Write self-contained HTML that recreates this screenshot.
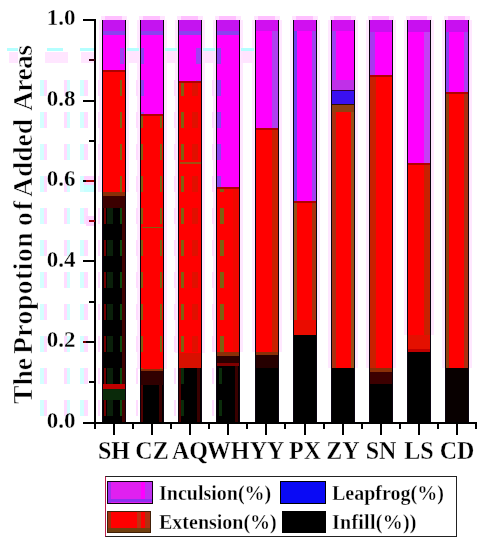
<!DOCTYPE html>
<html><head><meta charset="utf-8"><style>
html,body{margin:0;padding:0;background:#fff;}
body{width:494px;height:550px;overflow:hidden;position:relative;font-family:"Liberation Serif",serif;font-weight:bold;color:#000;}
.yl,.xl,.lt{-webkit-text-stroke:0.3px #fff;will-change:transform;}
.tw{-webkit-text-stroke:0.6px #fff;will-change:transform;}
div{position:absolute;}
.yl{left:30px;width:45.5px;text-align:right;font-size:23px;line-height:26px;transform:scaleY(1.04);transform-origin:50% 13px;}
.xl{top:437.3px;width:60px;text-align:center;font-size:24px;line-height:26px;transform:scaleY(1.075);transform-origin:50% 13px;}
.tw{transform-origin:0 0;transform:rotate(-90deg);white-space:nowrap;font-size:27.6px;line-height:30px;}
.leg{left:104.5px;top:476px;width:350px;height:59px;border:1px solid #222;border-left-color:#c02050;}
.lt{font-size:20px;line-height:22px;white-space:nowrap;}
</style></head><body>
<div style="left:101.00px;top:16.00px;width:26.00px;height:4.00px;background:#ffe4ff;"></div><div style="left:105.00px;top:16.00px;width:17.00px;height:4.00px;background:#ffc0ff;"></div><div style="left:139.00px;top:16.00px;width:26.00px;height:4.00px;background:#ffe4ff;"></div><div style="left:143.00px;top:16.00px;width:17.00px;height:4.00px;background:#ffc0ff;"></div><div style="left:177.00px;top:16.00px;width:26.00px;height:4.00px;background:#ffe4ff;"></div><div style="left:181.00px;top:16.00px;width:17.00px;height:4.00px;background:#ffc0ff;"></div><div style="left:215.00px;top:16.00px;width:26.00px;height:4.00px;background:#ffe4ff;"></div><div style="left:219.00px;top:16.00px;width:17.00px;height:4.00px;background:#ffc0ff;"></div><div style="left:254.00px;top:16.00px;width:26.00px;height:4.00px;background:#ffe4ff;"></div><div style="left:258.00px;top:16.00px;width:17.00px;height:4.00px;background:#ffc0ff;"></div><div style="left:292.00px;top:16.00px;width:26.00px;height:4.00px;background:#ffe4ff;"></div><div style="left:296.00px;top:16.00px;width:17.00px;height:4.00px;background:#ffc0ff;"></div><div style="left:330.00px;top:16.00px;width:26.00px;height:4.00px;background:#ffe4ff;"></div><div style="left:334.00px;top:16.00px;width:17.00px;height:4.00px;background:#ffc0ff;"></div><div style="left:368.00px;top:16.00px;width:26.00px;height:4.00px;background:#ffe4ff;"></div><div style="left:372.00px;top:16.00px;width:17.00px;height:4.00px;background:#ffc0ff;"></div><div style="left:406.00px;top:16.00px;width:26.00px;height:4.00px;background:#ffe4ff;"></div><div style="left:410.00px;top:16.00px;width:17.00px;height:4.00px;background:#ffc0ff;"></div><div style="left:444.00px;top:16.00px;width:26.00px;height:4.00px;background:#ffe4ff;"></div><div style="left:448.00px;top:16.00px;width:17.00px;height:4.00px;background:#ffc0ff;"></div><div style="left:102.00px;top:20.00px;width:24.00px;height:11.00px;background:#c414f0;"></div><div style="left:102.00px;top:31.00px;width:24.00px;height:4.00px;background:#8c40f0;"></div><div style="left:102.00px;top:35.00px;width:24.00px;height:34.50px;background:#ff00ff;"></div><div style="left:102.00px;top:69.50px;width:24.00px;height:2.00px;background:#b00000;"></div><div style="left:102.00px;top:71.50px;width:24.00px;height:120.50px;background:#ff0000;"></div><div style="left:102.00px;top:192.00px;width:24.00px;height:4.00px;background:#8a3008;"></div><div style="left:102.00px;top:196.00px;width:24.00px;height:12.00px;background:#3c0000;"></div><div style="left:102.00px;top:208.00px;width:24.00px;height:176.00px;background:#000000;"></div><div style="left:102.00px;top:384.00px;width:24.00px;height:5.00px;background:#c00000;"></div><div style="left:102.00px;top:389.00px;width:24.00px;height:11.00px;background:#0a2a0a;"></div><div style="left:102.00px;top:400.00px;width:24.00px;height:22.00px;background:#000000;"></div><div style="left:102.00px;top:20.00px;width:1.00px;height:402.00px;background:#0a0410;"></div><div style="left:125.00px;top:20.00px;width:1.00px;height:402.00px;background:#0a0410;"></div><div style="left:140.00px;top:20.00px;width:24.00px;height:11.00px;background:#c414f0;"></div><div style="left:140.00px;top:31.00px;width:24.00px;height:4.00px;background:#8c40f0;"></div><div style="left:140.00px;top:35.00px;width:24.00px;height:78.50px;background:#ff00ff;"></div><div style="left:140.00px;top:113.50px;width:24.00px;height:2.00px;background:#b00000;"></div><div style="left:140.00px;top:115.50px;width:24.00px;height:253.50px;background:#ff0000;"></div><div style="left:140.00px;top:369.00px;width:24.00px;height:2.00px;background:#8a3008;"></div><div style="left:140.00px;top:371.00px;width:24.00px;height:14.00px;background:#300000;"></div><div style="left:140.00px;top:385.00px;width:24.00px;height:37.00px;background:#000000;"></div><div style="left:140.00px;top:20.00px;width:1.00px;height:402.00px;background:#0a0410;"></div><div style="left:163.00px;top:20.00px;width:1.00px;height:402.00px;background:#0a0410;"></div><div style="left:178.00px;top:20.00px;width:24.00px;height:11.00px;background:#c414f0;"></div><div style="left:178.00px;top:31.00px;width:24.00px;height:4.00px;background:#8c40f0;"></div><div style="left:178.00px;top:35.00px;width:24.00px;height:46.00px;background:#ff00ff;"></div><div style="left:178.00px;top:81.00px;width:24.00px;height:2.00px;background:#b00000;"></div><div style="left:178.00px;top:83.00px;width:24.00px;height:270.00px;background:#ff0000;"></div><div style="left:178.00px;top:353.00px;width:24.00px;height:14.60px;background:#d81000;"></div><div style="left:178.00px;top:367.60px;width:24.00px;height:54.40px;background:#000000;"></div><div style="left:178.00px;top:20.00px;width:1.00px;height:402.00px;background:#0a0410;"></div><div style="left:201.00px;top:20.00px;width:1.00px;height:402.00px;background:#0a0410;"></div><div style="left:216.00px;top:20.00px;width:24.00px;height:11.00px;background:#c414f0;"></div><div style="left:216.00px;top:31.00px;width:24.00px;height:4.00px;background:#8c40f0;"></div><div style="left:216.00px;top:35.00px;width:24.00px;height:151.50px;background:#ff00ff;"></div><div style="left:216.00px;top:186.50px;width:24.00px;height:2.00px;background:#b00000;"></div><div style="left:216.00px;top:188.50px;width:24.00px;height:163.80px;background:#ff0000;"></div><div style="left:216.00px;top:352.30px;width:24.00px;height:3.70px;background:#8a3008;"></div><div style="left:216.00px;top:356.00px;width:24.00px;height:7.00px;background:#2a0000;"></div><div style="left:216.00px;top:363.00px;width:24.00px;height:3.00px;background:#800000;"></div><div style="left:216.00px;top:366.00px;width:24.00px;height:56.00px;background:#000000;"></div><div style="left:216.00px;top:20.00px;width:1.00px;height:402.00px;background:#0a0410;"></div><div style="left:239.00px;top:20.00px;width:1.00px;height:402.00px;background:#0a0410;"></div><div style="left:255.00px;top:20.00px;width:24.00px;height:11.00px;background:#d010f0;"></div><div style="left:255.00px;top:31.00px;width:24.00px;height:96.50px;background:#ff00ff;"></div><div style="left:255.00px;top:127.50px;width:24.00px;height:2.00px;background:#b00000;"></div><div style="left:255.00px;top:129.50px;width:24.00px;height:222.70px;background:#ff0000;"></div><div style="left:255.00px;top:352.20px;width:24.00px;height:2.80px;background:#8a3008;"></div><div style="left:255.00px;top:355.00px;width:24.00px;height:13.00px;background:#260000;"></div><div style="left:255.00px;top:368.00px;width:24.00px;height:54.00px;background:#000000;"></div><div style="left:255.00px;top:20.00px;width:1.00px;height:402.00px;background:#0a0410;"></div><div style="left:278.00px;top:20.00px;width:1.00px;height:402.00px;background:#0a0410;"></div><div style="left:293.00px;top:20.00px;width:24.00px;height:11.00px;background:#d010f0;"></div><div style="left:293.00px;top:31.00px;width:24.00px;height:170.00px;background:#ff00ff;"></div><div style="left:293.00px;top:201.00px;width:24.00px;height:2.00px;background:#b00000;"></div><div style="left:293.00px;top:203.00px;width:24.00px;height:117.00px;background:#ff0000;"></div><div style="left:293.00px;top:320.00px;width:24.00px;height:15.20px;background:#ea0c00;"></div><div style="left:293.00px;top:335.20px;width:24.00px;height:86.80px;background:#000000;"></div><div style="left:293.00px;top:20.00px;width:1.00px;height:402.00px;background:#0a0410;"></div><div style="left:316.00px;top:20.00px;width:1.00px;height:402.00px;background:#0a0410;"></div><div style="left:331.00px;top:20.00px;width:24.00px;height:11.00px;background:#d010f0;"></div><div style="left:331.00px;top:31.00px;width:24.00px;height:48.50px;background:#ff00ff;"></div><div style="left:331.00px;top:79.50px;width:24.00px;height:10.50px;background:#c030e8;"></div><div style="left:331.00px;top:90.00px;width:24.00px;height:1.00px;background:#300040;"></div><div style="left:331.00px;top:91.00px;width:24.00px;height:13.00px;background:#3a10f0;"></div><div style="left:331.00px;top:104.00px;width:24.00px;height:1.00px;background:#301000;"></div><div style="left:331.00px;top:105.00px;width:24.00px;height:7.00px;background:#904010;"></div><div style="left:331.00px;top:112.00px;width:24.00px;height:255.50px;background:#ff0000;"></div><div style="left:331.00px;top:367.50px;width:24.00px;height:54.50px;background:#000000;"></div><div style="left:331.00px;top:20.00px;width:1.00px;height:402.00px;background:#0a0410;"></div><div style="left:354.00px;top:20.00px;width:1.00px;height:402.00px;background:#0a0410;"></div><div style="left:369.00px;top:20.00px;width:24.00px;height:11.50px;background:#c810f0;"></div><div style="left:369.00px;top:31.50px;width:24.00px;height:43.50px;background:#ff00ff;"></div><div style="left:369.00px;top:75.00px;width:24.00px;height:2.00px;background:#b00000;"></div><div style="left:369.00px;top:77.00px;width:24.00px;height:291.30px;background:#ff0000;"></div><div style="left:369.00px;top:368.30px;width:24.00px;height:3.70px;background:#8a3008;"></div><div style="left:369.00px;top:372.00px;width:24.00px;height:12.00px;background:#3c0000;"></div><div style="left:369.00px;top:384.00px;width:24.00px;height:38.00px;background:#000000;"></div><div style="left:369.00px;top:20.00px;width:1.00px;height:402.00px;background:#0a0410;"></div><div style="left:392.00px;top:20.00px;width:1.00px;height:402.00px;background:#0a0410;"></div><div style="left:407.00px;top:20.00px;width:24.00px;height:11.50px;background:#c810f0;"></div><div style="left:407.00px;top:31.50px;width:24.00px;height:131.50px;background:#ff00ff;"></div><div style="left:407.00px;top:163.00px;width:24.00px;height:2.00px;background:#b00000;"></div><div style="left:407.00px;top:165.00px;width:24.00px;height:170.00px;background:#ff0000;"></div><div style="left:407.00px;top:335.00px;width:24.00px;height:14.00px;background:#e41000;"></div><div style="left:407.00px;top:349.00px;width:24.00px;height:2.80px;background:#c00000;"></div><div style="left:407.00px;top:351.80px;width:24.00px;height:70.20px;background:#000000;"></div><div style="left:407.00px;top:20.00px;width:1.00px;height:402.00px;background:#0a0410;"></div><div style="left:430.00px;top:20.00px;width:1.00px;height:402.00px;background:#0a0410;"></div><div style="left:445.00px;top:20.00px;width:24.00px;height:11.50px;background:#c810f0;"></div><div style="left:445.00px;top:31.50px;width:24.00px;height:60.50px;background:#ff00ff;"></div><div style="left:445.00px;top:92.00px;width:24.00px;height:2.00px;background:#b00000;"></div><div style="left:445.00px;top:94.00px;width:24.00px;height:274.30px;background:#ff0000;"></div><div style="left:445.00px;top:368.30px;width:24.00px;height:53.70px;background:#080000;"></div><div style="left:445.00px;top:20.00px;width:1.00px;height:402.00px;background:#0a0410;"></div><div style="left:468.00px;top:20.00px;width:1.00px;height:402.00px;background:#0a0410;"></div><div style="left:120.00px;top:48.00px;width:4.00px;height:16.00px;background:#a040f0;"></div><div style="left:120.00px;top:80.00px;width:2.00px;height:16.00px;background:#806010;"></div><div style="left:120.00px;top:112.00px;width:2.00px;height:16.00px;background:#806010;"></div><div style="left:120.00px;top:144.00px;width:2.00px;height:16.00px;background:#806010;"></div><div style="left:120.00px;top:176.00px;width:2.00px;height:16.00px;background:#806010;"></div><div style="left:104.00px;top:208.00px;width:2.00px;height:16.00px;background:#700000;"></div><div style="left:104.00px;top:240.00px;width:2.00px;height:16.00px;background:#700000;"></div><div style="left:104.00px;top:272.00px;width:2.00px;height:16.00px;background:#700000;"></div><div style="left:104.00px;top:304.00px;width:2.00px;height:16.00px;background:#700000;"></div><div style="left:104.00px;top:336.00px;width:2.00px;height:16.00px;background:#700000;"></div><div style="left:104.00px;top:368.00px;width:2.00px;height:16.00px;background:#700000;"></div><div style="left:104.00px;top:400.00px;width:2.00px;height:16.00px;background:#700000;"></div><div style="left:107.00px;top:208.00px;width:6.00px;height:16.00px;background:#0a200a;"></div><div style="left:107.00px;top:240.00px;width:6.00px;height:16.00px;background:#0a200a;"></div><div style="left:107.00px;top:272.00px;width:6.00px;height:16.00px;background:#0a200a;"></div><div style="left:107.00px;top:304.00px;width:6.00px;height:16.00px;background:#0a200a;"></div><div style="left:107.00px;top:336.00px;width:6.00px;height:16.00px;background:#0a200a;"></div><div style="left:107.00px;top:368.00px;width:6.00px;height:16.00px;background:#0a200a;"></div><div style="left:107.00px;top:400.00px;width:6.00px;height:16.00px;background:#0a200a;"></div><div style="left:120.00px;top:208.00px;width:2.00px;height:16.00px;background:#0c4a0c;"></div><div style="left:120.00px;top:240.00px;width:2.00px;height:16.00px;background:#0c4a0c;"></div><div style="left:120.00px;top:272.00px;width:2.00px;height:16.00px;background:#0c4a0c;"></div><div style="left:120.00px;top:304.00px;width:2.00px;height:16.00px;background:#0c4a0c;"></div><div style="left:120.00px;top:336.00px;width:2.00px;height:16.00px;background:#0c4a0c;"></div><div style="left:120.00px;top:368.00px;width:2.00px;height:16.00px;background:#0c4a0c;"></div><div style="left:120.00px;top:400.00px;width:2.00px;height:16.00px;background:#0c4a0c;"></div><div style="left:122.00px;top:208.00px;width:3.00px;height:176.00px;background:#400000;"></div><div style="left:122.00px;top:400.00px;width:3.00px;height:22.00px;background:#400000;"></div><div style="left:141.00px;top:48.00px;width:3.00px;height:16.00px;background:#9040f0;"></div><div style="left:141.00px;top:80.00px;width:3.00px;height:16.00px;background:#9040f0;"></div><div style="left:141.00px;top:112.00px;width:3.00px;height:1.50px;background:#9040f0;"></div><div style="left:141.00px;top:115.50px;width:2.00px;height:12.50px;background:#806010;"></div><div style="left:141.00px;top:144.00px;width:2.00px;height:16.00px;background:#806010;"></div><div style="left:141.00px;top:176.00px;width:2.00px;height:16.00px;background:#806010;"></div><div style="left:141.00px;top:208.00px;width:2.00px;height:16.00px;background:#806010;"></div><div style="left:141.00px;top:240.00px;width:2.00px;height:16.00px;background:#806010;"></div><div style="left:141.00px;top:272.00px;width:2.00px;height:16.00px;background:#806010;"></div><div style="left:141.00px;top:304.00px;width:2.00px;height:16.00px;background:#806010;"></div><div style="left:141.00px;top:336.00px;width:2.00px;height:16.00px;background:#806010;"></div><div style="left:141.00px;top:368.00px;width:2.00px;height:1.00px;background:#806010;"></div><div style="left:160.00px;top:115.50px;width:2.00px;height:12.50px;background:#806010;"></div><div style="left:160.00px;top:144.00px;width:2.00px;height:16.00px;background:#806010;"></div><div style="left:160.00px;top:176.00px;width:2.00px;height:16.00px;background:#806010;"></div><div style="left:160.00px;top:208.00px;width:2.00px;height:16.00px;background:#806010;"></div><div style="left:160.00px;top:240.00px;width:2.00px;height:16.00px;background:#806010;"></div><div style="left:160.00px;top:272.00px;width:2.00px;height:16.00px;background:#806010;"></div><div style="left:160.00px;top:304.00px;width:2.00px;height:16.00px;background:#806010;"></div><div style="left:160.00px;top:336.00px;width:2.00px;height:16.00px;background:#806010;"></div><div style="left:160.00px;top:368.00px;width:2.00px;height:1.00px;background:#806010;"></div><div style="left:141.00px;top:385.00px;width:2.00px;height:37.00px;background:#500000;"></div><div style="left:159.00px;top:385.00px;width:3.00px;height:37.00px;background:#3a0000;"></div><div style="left:196.00px;top:48.00px;width:5.00px;height:16.00px;background:#a040f0;"></div><div style="left:196.00px;top:80.00px;width:5.00px;height:1.00px;background:#a040f0;"></div><div style="left:181.00px;top:83.00px;width:3.00px;height:13.00px;background:#806010;"></div><div style="left:181.00px;top:112.00px;width:3.00px;height:16.00px;background:#806010;"></div><div style="left:181.00px;top:144.00px;width:3.00px;height:16.00px;background:#806010;"></div><div style="left:181.00px;top:176.00px;width:3.00px;height:16.00px;background:#806010;"></div><div style="left:181.00px;top:208.00px;width:3.00px;height:16.00px;background:#806010;"></div><div style="left:181.00px;top:240.00px;width:3.00px;height:16.00px;background:#806010;"></div><div style="left:181.00px;top:272.00px;width:3.00px;height:16.00px;background:#806010;"></div><div style="left:181.00px;top:304.00px;width:3.00px;height:16.00px;background:#806010;"></div><div style="left:181.00px;top:336.00px;width:3.00px;height:16.00px;background:#806010;"></div><div style="left:192.00px;top:83.00px;width:6.00px;height:13.00px;background:#e01000;"></div><div style="left:192.00px;top:112.00px;width:6.00px;height:16.00px;background:#e01000;"></div><div style="left:192.00px;top:144.00px;width:6.00px;height:16.00px;background:#e01000;"></div><div style="left:192.00px;top:176.00px;width:6.00px;height:16.00px;background:#e01000;"></div><div style="left:192.00px;top:208.00px;width:6.00px;height:16.00px;background:#e01000;"></div><div style="left:192.00px;top:240.00px;width:6.00px;height:16.00px;background:#e01000;"></div><div style="left:192.00px;top:272.00px;width:6.00px;height:16.00px;background:#e01000;"></div><div style="left:192.00px;top:304.00px;width:6.00px;height:16.00px;background:#e01000;"></div><div style="left:192.00px;top:336.00px;width:6.00px;height:16.00px;background:#e01000;"></div><div style="left:179.00px;top:367.60px;width:2.00px;height:54.40px;background:#500000;"></div><div style="left:181.00px;top:368.00px;width:3.00px;height:16.00px;background:#0a2c0a;"></div><div style="left:181.00px;top:400.00px;width:3.00px;height:16.00px;background:#0a2c0a;"></div><div style="left:197.00px;top:367.60px;width:3.00px;height:54.40px;background:#3a0000;"></div><div style="left:217.00px;top:48.00px;width:4.00px;height:16.00px;background:#9040f0;"></div><div style="left:217.00px;top:80.00px;width:4.00px;height:16.00px;background:#9040f0;"></div><div style="left:217.00px;top:112.00px;width:4.00px;height:16.00px;background:#9040f0;"></div><div style="left:217.00px;top:144.00px;width:4.00px;height:16.00px;background:#9040f0;"></div><div style="left:217.00px;top:176.00px;width:4.00px;height:10.50px;background:#9040f0;"></div><div style="left:220.00px;top:188.50px;width:4.00px;height:3.50px;background:#806010;"></div><div style="left:220.00px;top:208.00px;width:4.00px;height:16.00px;background:#806010;"></div><div style="left:220.00px;top:240.00px;width:4.00px;height:16.00px;background:#806010;"></div><div style="left:220.00px;top:272.00px;width:4.00px;height:16.00px;background:#806010;"></div><div style="left:220.00px;top:304.00px;width:4.00px;height:16.00px;background:#806010;"></div><div style="left:220.00px;top:336.00px;width:4.00px;height:16.00px;background:#806010;"></div><div style="left:233.00px;top:188.50px;width:6.00px;height:163.80px;background:#f00800;"></div><div style="left:219.00px;top:368.00px;width:3.00px;height:16.00px;background:#0a2c0a;"></div><div style="left:219.00px;top:400.00px;width:3.00px;height:16.00px;background:#0a2c0a;"></div><div style="left:235.00px;top:366.00px;width:3.00px;height:56.00px;background:#3a0000;"></div><div style="left:272.00px;top:31.00px;width:6.00px;height:96.50px;background:#b040f0;"></div><div style="left:272.00px;top:129.50px;width:6.00px;height:222.70px;background:#c82000;"></div><div style="left:294.00px;top:31.00px;width:3.00px;height:170.00px;background:#7040f0;"></div><div style="left:312.00px;top:31.00px;width:4.00px;height:170.00px;background:#a040f0;"></div><div style="left:294.00px;top:203.00px;width:3.00px;height:117.00px;background:#985018;"></div><div style="left:312.00px;top:203.00px;width:4.00px;height:117.00px;background:#a83010;"></div><div style="left:332.00px;top:31.00px;width:4.00px;height:48.50px;background:#a040f0;"></div><div style="left:332.00px;top:112.00px;width:4.00px;height:255.50px;background:#a83010;"></div><div style="left:351.00px;top:112.00px;width:3.00px;height:255.50px;background:#985018;"></div><div style="left:370.00px;top:31.50px;width:5.00px;height:43.50px;background:#a838f0;"></div><div style="left:370.00px;top:77.00px;width:6.00px;height:291.30px;background:#c82000;"></div><div style="left:424.00px;top:31.50px;width:6.00px;height:131.50px;background:#c440f4;"></div><div style="left:424.00px;top:165.00px;width:6.00px;height:170.00px;background:#c82000;"></div><div style="left:446.00px;top:31.50px;width:3.00px;height:60.50px;background:#8840f0;"></div><div style="left:464.00px;top:31.50px;width:4.00px;height:60.50px;background:#a840f0;"></div><div style="left:446.00px;top:94.00px;width:3.00px;height:274.30px;background:#904010;"></div><div style="left:464.00px;top:94.00px;width:4.00px;height:274.30px;background:#a83010;"></div><div style="left:99.00px;top:20.00px;width:3.00px;height:172.00px;background:#ffe8ff;"></div><div style="left:126.00px;top:20.00px;width:3.00px;height:172.00px;background:#ffe8ff;"></div><div style="left:137.00px;top:20.00px;width:3.00px;height:349.00px;background:#ffe8ff;"></div><div style="left:164.00px;top:20.00px;width:3.00px;height:349.00px;background:#ffe8ff;"></div><div style="left:175.00px;top:20.00px;width:3.00px;height:333.00px;background:#ffe8ff;"></div><div style="left:202.00px;top:20.00px;width:3.00px;height:333.00px;background:#ffe8ff;"></div><div style="left:213.00px;top:20.00px;width:3.00px;height:332.30px;background:#ffe8ff;"></div><div style="left:240.00px;top:20.00px;width:3.00px;height:332.30px;background:#ffe8ff;"></div><div style="left:252.00px;top:20.00px;width:3.00px;height:332.20px;background:#ffe8ff;"></div><div style="left:279.00px;top:20.00px;width:3.00px;height:332.20px;background:#ffe8ff;"></div><div style="left:290.00px;top:20.00px;width:3.00px;height:300.00px;background:#ffe8ff;"></div><div style="left:317.00px;top:20.00px;width:3.00px;height:300.00px;background:#ffe8ff;"></div><div style="left:328.00px;top:20.00px;width:3.00px;height:347.50px;background:#ffe8ff;"></div><div style="left:355.00px;top:20.00px;width:3.00px;height:347.50px;background:#ffe8ff;"></div><div style="left:366.00px;top:20.00px;width:3.00px;height:348.30px;background:#ffe8ff;"></div><div style="left:393.00px;top:20.00px;width:3.00px;height:348.30px;background:#ffe8ff;"></div><div style="left:404.00px;top:20.00px;width:3.00px;height:315.00px;background:#ffe8ff;"></div><div style="left:431.00px;top:20.00px;width:3.00px;height:315.00px;background:#ffe8ff;"></div><div style="left:442.00px;top:20.00px;width:3.00px;height:348.30px;background:#ffe8ff;"></div><div style="left:469.00px;top:20.00px;width:3.00px;height:348.30px;background:#ffe8ff;"></div><div style="left:7.00px;top:48.00px;width:11.00px;height:3.00px;background:#b4ffff;"></div><div style="left:47.00px;top:48.00px;width:16.00px;height:3.00px;background:#b4ffff;"></div><div style="left:80.00px;top:48.00px;width:14.00px;height:3.00px;background:#b4ffff;"></div><div style="left:9.00px;top:52.00px;width:9.00px;height:11.00px;background:#ffe6ff;"></div><div style="left:45.00px;top:52.00px;width:23.00px;height:11.00px;background:#ffe6ff;"></div><div style="left:81.00px;top:52.00px;width:13.00px;height:11.00px;background:#ffe6ff;"></div><div style="left:40.00px;top:80.00px;width:4.00px;height:16.00px;background:#d4ffff;"></div><div style="left:44.00px;top:80.00px;width:3.00px;height:16.00px;background:#ffdcff;"></div><div style="left:64.00px;top:80.00px;width:3.00px;height:16.00px;background:#ffdcff;"></div><div style="left:67.00px;top:80.00px;width:3.00px;height:16.00px;background:#d4ffff;"></div><div style="left:80.00px;top:80.00px;width:4.00px;height:16.00px;background:#d4ffff;"></div><div style="left:84.00px;top:80.00px;width:4.00px;height:16.00px;background:#ffdcff;"></div><div style="left:98.00px;top:80.00px;width:2.00px;height:16.00px;background:#ffdcff;"></div><div style="left:136.00px;top:80.00px;width:2.00px;height:16.00px;background:#ffdcff;"></div><div style="left:174.00px;top:80.00px;width:2.00px;height:16.00px;background:#ffdcff;"></div><div style="left:212.00px;top:80.00px;width:2.00px;height:16.00px;background:#ffdcff;"></div><div style="left:40.00px;top:112.00px;width:4.00px;height:16.00px;background:#d4ffff;"></div><div style="left:44.00px;top:112.00px;width:3.00px;height:16.00px;background:#ffdcff;"></div><div style="left:64.00px;top:112.00px;width:3.00px;height:16.00px;background:#ffdcff;"></div><div style="left:67.00px;top:112.00px;width:3.00px;height:16.00px;background:#d4ffff;"></div><div style="left:80.00px;top:112.00px;width:4.00px;height:16.00px;background:#d4ffff;"></div><div style="left:84.00px;top:112.00px;width:4.00px;height:16.00px;background:#ffdcff;"></div><div style="left:98.00px;top:112.00px;width:2.00px;height:16.00px;background:#ffdcff;"></div><div style="left:136.00px;top:112.00px;width:2.00px;height:16.00px;background:#ffdcff;"></div><div style="left:174.00px;top:112.00px;width:2.00px;height:16.00px;background:#ffdcff;"></div><div style="left:212.00px;top:112.00px;width:2.00px;height:16.00px;background:#ffdcff;"></div><div style="left:40.00px;top:144.00px;width:4.00px;height:16.00px;background:#d4ffff;"></div><div style="left:44.00px;top:144.00px;width:3.00px;height:16.00px;background:#ffdcff;"></div><div style="left:64.00px;top:144.00px;width:3.00px;height:16.00px;background:#ffdcff;"></div><div style="left:67.00px;top:144.00px;width:3.00px;height:16.00px;background:#d4ffff;"></div><div style="left:80.00px;top:144.00px;width:4.00px;height:16.00px;background:#d4ffff;"></div><div style="left:84.00px;top:144.00px;width:4.00px;height:16.00px;background:#ffdcff;"></div><div style="left:98.00px;top:144.00px;width:2.00px;height:16.00px;background:#ffdcff;"></div><div style="left:136.00px;top:144.00px;width:2.00px;height:16.00px;background:#ffdcff;"></div><div style="left:174.00px;top:144.00px;width:2.00px;height:16.00px;background:#ffdcff;"></div><div style="left:212.00px;top:144.00px;width:2.00px;height:16.00px;background:#ffdcff;"></div><div style="left:40.00px;top:176.00px;width:4.00px;height:16.00px;background:#d4ffff;"></div><div style="left:44.00px;top:176.00px;width:3.00px;height:16.00px;background:#ffdcff;"></div><div style="left:64.00px;top:176.00px;width:3.00px;height:16.00px;background:#ffdcff;"></div><div style="left:67.00px;top:176.00px;width:3.00px;height:16.00px;background:#d4ffff;"></div><div style="left:80.00px;top:176.00px;width:4.00px;height:16.00px;background:#d4ffff;"></div><div style="left:84.00px;top:176.00px;width:4.00px;height:16.00px;background:#ffdcff;"></div><div style="left:98.00px;top:176.00px;width:2.00px;height:16.00px;background:#ffdcff;"></div><div style="left:136.00px;top:176.00px;width:2.00px;height:16.00px;background:#ffdcff;"></div><div style="left:174.00px;top:176.00px;width:2.00px;height:16.00px;background:#ffdcff;"></div><div style="left:212.00px;top:176.00px;width:2.00px;height:16.00px;background:#ffdcff;"></div><div style="left:40.00px;top:208.00px;width:4.00px;height:16.00px;background:#d4ffff;"></div><div style="left:44.00px;top:208.00px;width:3.00px;height:16.00px;background:#ffdcff;"></div><div style="left:64.00px;top:208.00px;width:3.00px;height:16.00px;background:#ffdcff;"></div><div style="left:67.00px;top:208.00px;width:3.00px;height:16.00px;background:#d4ffff;"></div><div style="left:80.00px;top:208.00px;width:4.00px;height:16.00px;background:#d4ffff;"></div><div style="left:84.00px;top:208.00px;width:4.00px;height:16.00px;background:#ffdcff;"></div><div style="left:98.00px;top:208.00px;width:2.00px;height:16.00px;background:#ffdcff;"></div><div style="left:136.00px;top:208.00px;width:2.00px;height:16.00px;background:#ffdcff;"></div><div style="left:174.00px;top:208.00px;width:2.00px;height:16.00px;background:#ffdcff;"></div><div style="left:212.00px;top:208.00px;width:2.00px;height:16.00px;background:#ffdcff;"></div><div style="left:40.00px;top:240.00px;width:4.00px;height:16.00px;background:#d4ffff;"></div><div style="left:44.00px;top:240.00px;width:3.00px;height:16.00px;background:#ffdcff;"></div><div style="left:64.00px;top:240.00px;width:3.00px;height:16.00px;background:#ffdcff;"></div><div style="left:67.00px;top:240.00px;width:3.00px;height:16.00px;background:#d4ffff;"></div><div style="left:80.00px;top:240.00px;width:4.00px;height:16.00px;background:#d4ffff;"></div><div style="left:84.00px;top:240.00px;width:4.00px;height:16.00px;background:#ffdcff;"></div><div style="left:98.00px;top:240.00px;width:2.00px;height:16.00px;background:#ffdcff;"></div><div style="left:136.00px;top:240.00px;width:2.00px;height:16.00px;background:#ffdcff;"></div><div style="left:174.00px;top:240.00px;width:2.00px;height:16.00px;background:#ffdcff;"></div><div style="left:212.00px;top:240.00px;width:2.00px;height:16.00px;background:#ffdcff;"></div><div style="left:40.00px;top:272.00px;width:4.00px;height:16.00px;background:#d4ffff;"></div><div style="left:44.00px;top:272.00px;width:3.00px;height:16.00px;background:#ffdcff;"></div><div style="left:64.00px;top:272.00px;width:3.00px;height:16.00px;background:#ffdcff;"></div><div style="left:67.00px;top:272.00px;width:3.00px;height:16.00px;background:#d4ffff;"></div><div style="left:80.00px;top:272.00px;width:4.00px;height:16.00px;background:#d4ffff;"></div><div style="left:84.00px;top:272.00px;width:4.00px;height:16.00px;background:#ffdcff;"></div><div style="left:98.00px;top:272.00px;width:2.00px;height:16.00px;background:#ffdcff;"></div><div style="left:136.00px;top:272.00px;width:2.00px;height:16.00px;background:#ffdcff;"></div><div style="left:174.00px;top:272.00px;width:2.00px;height:16.00px;background:#ffdcff;"></div><div style="left:212.00px;top:272.00px;width:2.00px;height:16.00px;background:#ffdcff;"></div><div style="left:40.00px;top:304.00px;width:4.00px;height:16.00px;background:#d4ffff;"></div><div style="left:44.00px;top:304.00px;width:3.00px;height:16.00px;background:#ffdcff;"></div><div style="left:64.00px;top:304.00px;width:3.00px;height:16.00px;background:#ffdcff;"></div><div style="left:67.00px;top:304.00px;width:3.00px;height:16.00px;background:#d4ffff;"></div><div style="left:80.00px;top:304.00px;width:4.00px;height:16.00px;background:#d4ffff;"></div><div style="left:84.00px;top:304.00px;width:4.00px;height:16.00px;background:#ffdcff;"></div><div style="left:98.00px;top:304.00px;width:2.00px;height:16.00px;background:#ffdcff;"></div><div style="left:136.00px;top:304.00px;width:2.00px;height:16.00px;background:#ffdcff;"></div><div style="left:174.00px;top:304.00px;width:2.00px;height:16.00px;background:#ffdcff;"></div><div style="left:212.00px;top:304.00px;width:2.00px;height:16.00px;background:#ffdcff;"></div><div style="left:40.00px;top:336.00px;width:4.00px;height:16.00px;background:#d4ffff;"></div><div style="left:44.00px;top:336.00px;width:3.00px;height:16.00px;background:#ffdcff;"></div><div style="left:64.00px;top:336.00px;width:3.00px;height:16.00px;background:#ffdcff;"></div><div style="left:67.00px;top:336.00px;width:3.00px;height:16.00px;background:#d4ffff;"></div><div style="left:80.00px;top:336.00px;width:4.00px;height:16.00px;background:#d4ffff;"></div><div style="left:84.00px;top:336.00px;width:4.00px;height:16.00px;background:#ffdcff;"></div><div style="left:98.00px;top:336.00px;width:2.00px;height:16.00px;background:#ffdcff;"></div><div style="left:136.00px;top:336.00px;width:2.00px;height:16.00px;background:#ffdcff;"></div><div style="left:174.00px;top:336.00px;width:2.00px;height:16.00px;background:#ffdcff;"></div><div style="left:212.00px;top:336.00px;width:2.00px;height:16.00px;background:#ffdcff;"></div><div style="left:40.00px;top:368.00px;width:4.00px;height:16.00px;background:#d4ffff;"></div><div style="left:44.00px;top:368.00px;width:3.00px;height:16.00px;background:#ffdcff;"></div><div style="left:64.00px;top:368.00px;width:3.00px;height:16.00px;background:#ffdcff;"></div><div style="left:67.00px;top:368.00px;width:3.00px;height:16.00px;background:#d4ffff;"></div><div style="left:80.00px;top:368.00px;width:4.00px;height:16.00px;background:#d4ffff;"></div><div style="left:84.00px;top:368.00px;width:4.00px;height:16.00px;background:#ffdcff;"></div><div style="left:98.00px;top:368.00px;width:2.00px;height:16.00px;background:#ffdcff;"></div><div style="left:136.00px;top:368.00px;width:2.00px;height:16.00px;background:#ffdcff;"></div><div style="left:174.00px;top:368.00px;width:2.00px;height:16.00px;background:#ffdcff;"></div><div style="left:212.00px;top:368.00px;width:2.00px;height:16.00px;background:#ffdcff;"></div><div style="left:40.00px;top:400.00px;width:4.00px;height:16.00px;background:#d4ffff;"></div><div style="left:44.00px;top:400.00px;width:3.00px;height:16.00px;background:#ffdcff;"></div><div style="left:64.00px;top:400.00px;width:3.00px;height:16.00px;background:#ffdcff;"></div><div style="left:67.00px;top:400.00px;width:3.00px;height:16.00px;background:#d4ffff;"></div><div style="left:80.00px;top:400.00px;width:4.00px;height:16.00px;background:#d4ffff;"></div><div style="left:84.00px;top:400.00px;width:4.00px;height:16.00px;background:#ffdcff;"></div><div style="left:98.00px;top:400.00px;width:2.00px;height:16.00px;background:#ffdcff;"></div><div style="left:136.00px;top:400.00px;width:2.00px;height:16.00px;background:#ffdcff;"></div><div style="left:174.00px;top:400.00px;width:2.00px;height:16.00px;background:#ffdcff;"></div><div style="left:212.00px;top:400.00px;width:2.00px;height:16.00px;background:#ffdcff;"></div><div style="left:127.00px;top:48.00px;width:12.00px;height:3.00px;background:#b4ffff;"></div><div style="left:127.00px;top:51.00px;width:12.00px;height:12.00px;background:#ffe4ff;"></div><div style="left:165.00px;top:48.00px;width:12.00px;height:3.00px;background:#b4ffff;"></div><div style="left:165.00px;top:51.00px;width:12.00px;height:12.00px;background:#ffe4ff;"></div><div style="left:203.00px;top:48.00px;width:12.00px;height:3.00px;background:#b4ffff;"></div><div style="left:203.00px;top:51.00px;width:12.00px;height:12.00px;background:#ffe4ff;"></div><div style="left:241.00px;top:48.00px;width:13.00px;height:3.00px;background:#b4ffff;"></div><div style="left:241.00px;top:51.00px;width:13.00px;height:12.00px;background:#ffe4ff;"></div><div style="left:142.00px;top:226.50px;width:21.00px;height:1.50px;background:#806010;"></div><div style="left:180.00px;top:162.00px;width:21.00px;height:1.50px;background:#a05010;"></div><div style="left:84.00px;top:176.00px;width:11.00px;height:9.00px;background:#ffd4ff;"></div><div style="left:84.00px;top:185.00px;width:11.00px;height:7.00px;background:#c8ffff;"></div><div style="left:86.00px;top:216.00px;width:9.00px;height:10.00px;background:#ffd4ff;"></div><div style="left:94.00px;top:19.00px;width:2.00px;height:405.00px;background:#000;"></div><div style="left:94.00px;top:422.00px;width:383.00px;height:2.00px;background:#000;"></div><div style="left:83.00px;top:422.00px;width:12.00px;height:2.00px;background:#000;"></div><div style="left:83.00px;top:341.00px;width:12.00px;height:2.00px;background:#000;"></div><div style="left:83.00px;top:260.00px;width:12.00px;height:2.00px;background:#000;"></div><div style="left:83.00px;top:180.00px;width:12.00px;height:2.00px;background:#000;"></div><div style="left:83.00px;top:100.00px;width:12.00px;height:2.00px;background:#000;"></div><div style="left:83.00px;top:19.00px;width:12.00px;height:2.00px;background:#000;"></div><div style="left:89.00px;top:381.00px;width:6.00px;height:2.00px;background:#000;"></div><div style="left:89.00px;top:301.00px;width:6.00px;height:2.00px;background:#000;"></div><div style="left:89.00px;top:220.00px;width:6.00px;height:2.00px;background:#a00010;"></div><div style="left:89.00px;top:140.00px;width:6.00px;height:2.00px;background:#000;"></div><div style="left:89.00px;top:59.00px;width:6.00px;height:2.00px;background:#3a0010;"></div><div style="left:86.00px;top:180.00px;width:8.00px;height:2.00px;background:#a00000;"></div><div style="left:83.00px;top:341.00px;width:3.00px;height:2.00px;background:#700000;"></div><div style="left:94.00px;top:424.00px;width:2.00px;height:5.00px;background:#000;"></div><div style="left:132.00px;top:424.00px;width:2.00px;height:5.00px;background:#000;"></div><div style="left:170.00px;top:424.00px;width:2.00px;height:5.00px;background:#000;"></div><div style="left:208.00px;top:424.00px;width:2.00px;height:5.00px;background:#000;"></div><div style="left:246.00px;top:424.00px;width:2.00px;height:5.00px;background:#000;"></div><div style="left:284.00px;top:424.00px;width:2.00px;height:5.00px;background:#000;"></div><div style="left:323.00px;top:424.00px;width:2.00px;height:5.00px;background:#000;"></div><div style="left:361.00px;top:424.00px;width:2.00px;height:5.00px;background:#000;"></div><div style="left:399.00px;top:424.00px;width:2.00px;height:5.00px;background:#000;"></div><div style="left:437.00px;top:424.00px;width:2.00px;height:5.00px;background:#000;"></div><div style="left:475.00px;top:424.00px;width:2.00px;height:5.00px;background:#000;"></div><div style="left:113.00px;top:424.00px;width:2.00px;height:11.00px;background:#000;"></div><div style="left:151.00px;top:424.00px;width:2.00px;height:11.00px;background:#000;"></div><div style="left:189.00px;top:424.00px;width:2.00px;height:11.00px;background:#000;"></div><div style="left:227.00px;top:424.00px;width:2.00px;height:11.00px;background:#000;"></div><div style="left:265.00px;top:424.00px;width:2.00px;height:11.00px;background:#000;"></div><div style="left:304.00px;top:424.00px;width:2.00px;height:11.00px;background:#000;"></div><div style="left:342.00px;top:424.00px;width:2.00px;height:11.00px;background:#000;"></div><div style="left:380.00px;top:424.00px;width:2.00px;height:11.00px;background:#000;"></div><div style="left:418.00px;top:424.00px;width:2.00px;height:11.00px;background:#000;"></div><div style="left:456.00px;top:424.00px;width:2.00px;height:11.00px;background:#000;"></div>
<div class="yl" style="top:407.5px">0.0</div><div class="yl" style="top:327.0px">0.2</div><div class="yl" style="top:246.5px">0.4</div><div class="yl" style="top:166.0px">0.6</div><div class="yl" style="top:85.5px">0.8</div><div class="yl" style="top:5.0px">1.0</div>
<div class="xl" style="left:84.0px">SH</div><div class="xl" style="left:122.2px">CZ</div><div class="xl" style="left:160.2px">AQ</div><div class="xl" style="left:198.3px">WH</div><div class="xl" style="left:236.5px">YY</div><div class="xl" style="left:274.6px">PX</div><div class="xl" style="left:312.6px">ZY</div><div class="xl" style="left:350.8px">SN</div><div class="xl" style="left:388.9px">LS</div><div class="xl" style="left:426.9px">CD</div>
<div class="tw" style="left:7.7px;top:403.5px;letter-spacing:0px">The</div><div class="tw" style="left:7.7px;top:353.5px;letter-spacing:0.5px">Propotion</div><div class="tw" style="left:7.7px;top:226.0px;letter-spacing:2px">of</div><div class="tw" style="left:7.7px;top:197.0px;letter-spacing:0px">Added</div><div class="tw" style="left:7.7px;top:111.0px;letter-spacing:-0.6px">Areas</div>
<div class="leg"></div>
<div style="left:107px;top:481px;width:44px;height:21px;background:#e020f0;border:1px solid #100010;"></div>
<div style="left:108px;top:482px;width:3px;height:21px;background:#a030f0;"></div>
<div style="left:108px;top:499px;width:44px;height:3px;background:#9030f0;"></div>
<div style="left:141px;top:482px;width:4px;height:17px;background:#ff00ff;"></div>
<div style="left:145px;top:482px;width:7px;height:17px;background:#c030f0;"></div>
<div style="left:107px;top:511px;width:42px;height:20px;background:#ff0000;border:1px solid #402008;"></div>
<div style="left:108px;top:512px;width:3px;height:20px;background:#a03010;"></div>
<div style="left:108px;top:528px;width:42px;height:4px;background:#704010;"></div>
<div style="left:137px;top:512px;width:4px;height:16px;background:#c03010;"></div>
<div style="left:145px;top:512px;width:5px;height:16px;background:#b03010;"></div>
<div style="left:279.5px;top:481px;width:44px;height:21px;background:#0a0af5;border:1px solid #000;"></div>
<div style="left:282px;top:511px;width:42px;height:19.5px;background:#000;border:1px solid #000;"></div>
<div class="lt" style="left:158.5px;top:481.5px;">Inculsion(%)</div>
<div class="lt" style="left:158.5px;top:511px;">Extension(%)</div>
<div class="lt" style="left:332px;top:481.5px;">Leapfrog(%)</div>
<div class="lt" style="left:332px;top:511px;letter-spacing:0.25px">Infill(%))</div>
</body></html>
